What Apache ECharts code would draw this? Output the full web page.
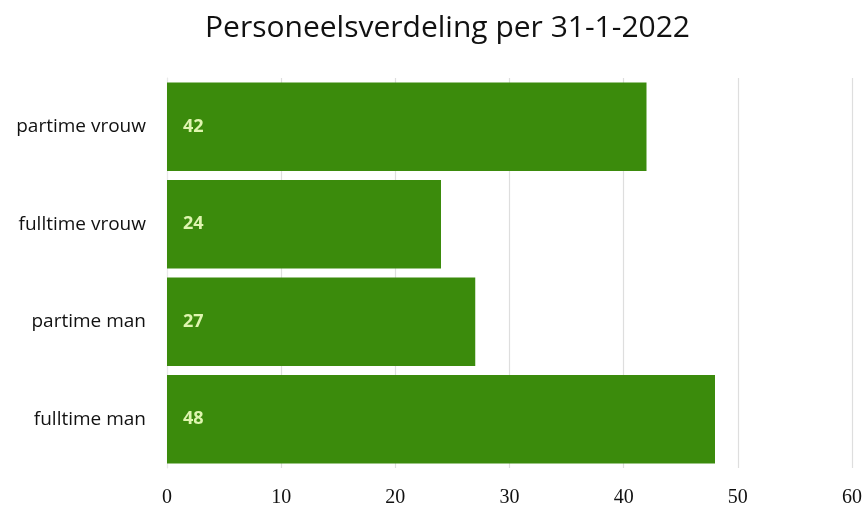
<!DOCTYPE html>
<html>
<head>
<meta charset="utf-8">
<script src="https://cdn.jsdelivr.net/npm/echarts@6/dist/echarts.min.js"></script>
<style>
html, body { margin: 0; padding: 0; background: #fff; }
#chart { width: 865px; height: 508px; }
</style>
</head>
<body>
<div id="chart"></div>
<script>
'use strict';
// categorieen van onder naar boven
var categories = ['fulltime man', 'partime man', 'fulltime vrouw', 'partime vrouw'];
var values = [48, 27, 24, 42];
var axisTicks = [0, 10, 20, 30, 40, 50, 60];

var myChart = echarts.init(document.getElementById('chart'));
var option = {
    backgroundColor: '#ffffff',
    title: {
        text: 'Personeelsverdeling per 31-1-2022',
        left: 200,
        top: 8,
        textStyle: {
            color: '#111',
            fontFamily: 'Open Sans',
            fontSize: 30,
            fontWeight: 'normal'
        }
    },
    grid: {
        left: 167,
        right: 12,
        top: 78,
        bottom: 40
    },
    xAxis: {
        type: 'value',
        min: axisTicks[0],
        max: axisTicks[axisTicks.length - 1],
        interval: 10,
        axisLine: { show: false },
        axisTick: { show: false },
        splitLine: { lineStyle: { color: '#dedede', width: 1.2 } },
        axisLabel: {
            color: '#111',
            fontFamily: 'Liberation Serif',
            fontSize: 20,
            margin: 20
        }
    },
    yAxis: {
        type: 'category',
        data: categories,
        axisLine: { show: true, lineStyle: { color: '#e8e8e8' } },
        axisTick: { show: false },
        axisLabel: {
            color: '#111',
            fontFamily: 'Open Sans',
            fontSize: 19,
            margin: 21
        }
    },
    series: [{
        type: 'bar',
        data: values,
        barCategoryGap: '9%',
        itemStyle: { color: '#3b8b0c' },
        label: {
            show: true,
            position: 'insideLeft',
            distance: 16,
            color: '#dff5b0',
            fontFamily: 'Open Sans',
            fontSize: 18,
            fontWeight: 'bold'
        }
    }]
};
myChart.setOption(option);
</script>
</body>
</html>
